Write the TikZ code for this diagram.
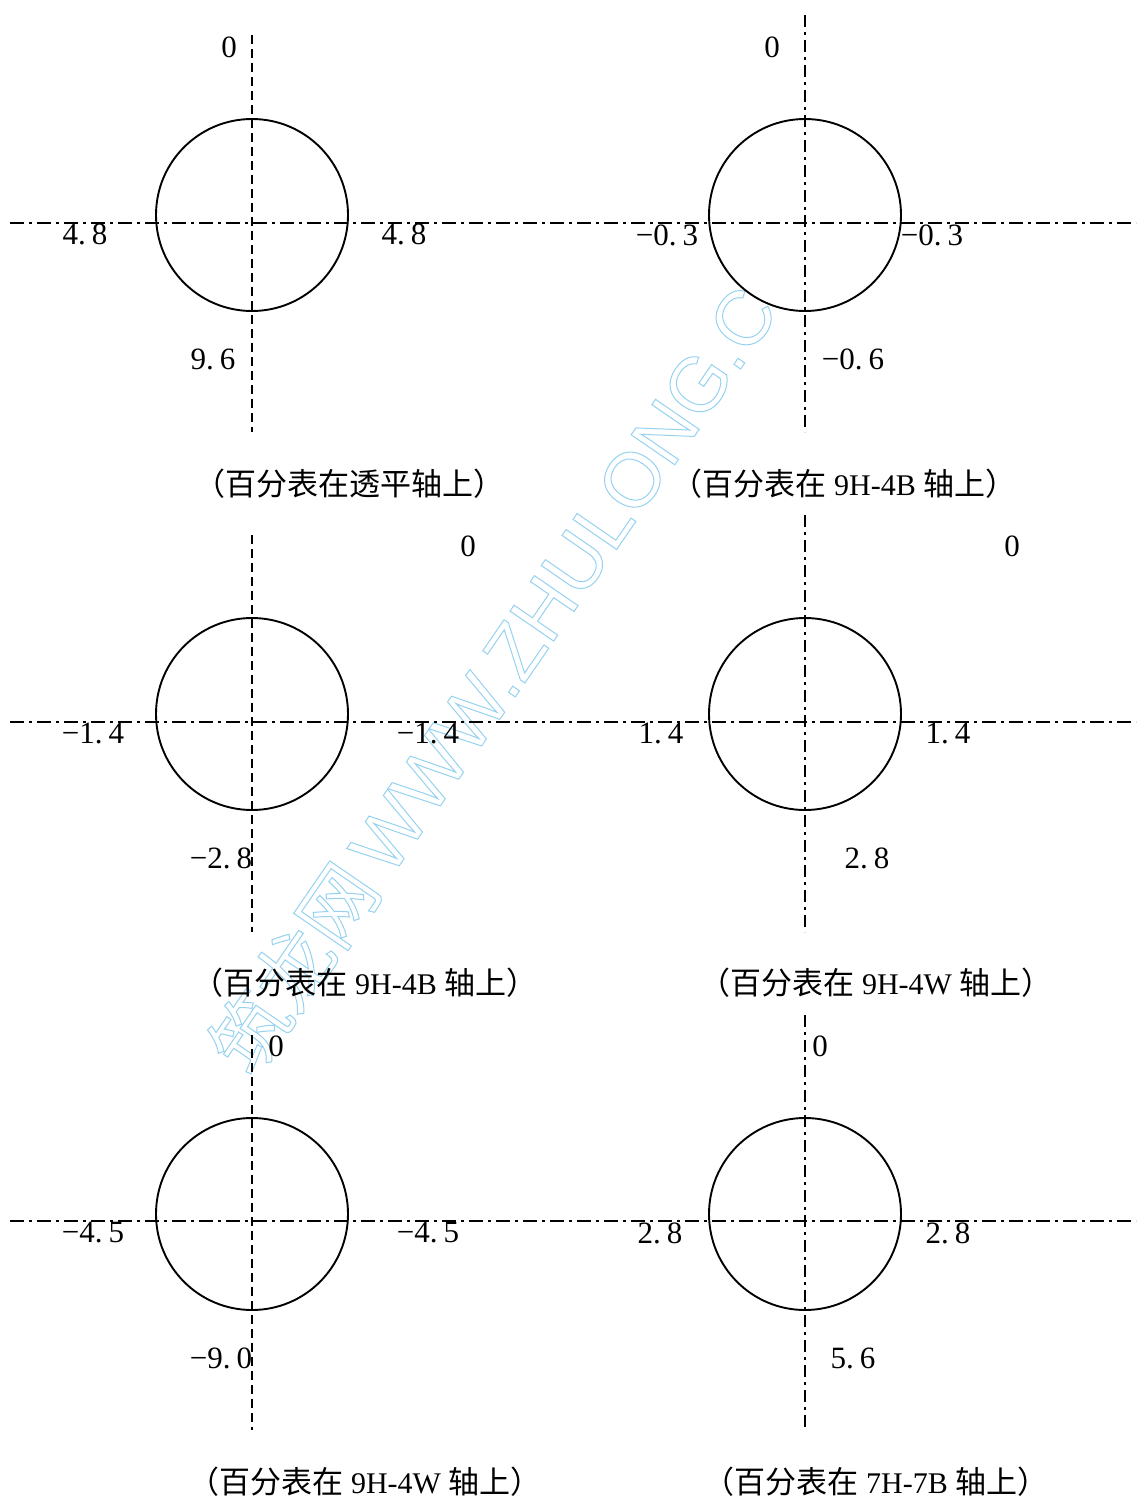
\documentclass[tikz,border=0pt]{standalone}
\usepackage{fontspec}
\setmainfont{Liberation Serif}
\newfontfamily\cjk{Noto Sans CJK SC}
\newfontfamily\wmsans{Liberation Sans}
\definecolor{wmblue}{RGB}{150,210,240}
\newcommand\numfont{\fontsize{31}{34}\selectfont}
\newcommand\capfont{\fontsize{30}{34}\selectfont}
\newcommand\pd{.\kern6pt}
\newcommand\cjkt[1]{{\cjk\fontsize{31}{34}\selectfont #1}}
\tikzset{
  ring/.style={draw=black, line width=1.9pt, fill=white},
  dashaxis/.style={draw=black, line width=1.7pt, dash pattern=on 9pt off 5pt},
  dotaxis/.style={draw=black, line width=1.7pt, dash pattern=on 14pt off 5pt on 3pt off 5pt},
  vdotaxis/.style={draw=black, line width=1.7pt, dash pattern=on 12pt off 5pt on 3pt off 5pt},
  num/.style={font=\numfont, inner sep=0pt, anchor=center},
  capt/.style={font=\capfont, inner sep=0pt, anchor=center},
}
\begin{document}
\begin{tikzpicture}[x=1pt,y=-1pt]
\useasboundingbox (0,0) rectangle (1136,1499);
\fill[white] (0,0) rectangle (1136,1499);

% watermark
\node[rotate=55.5, anchor=base west, inner sep=0pt, text=wmblue,
      font=\fontsize{77}{84}\selectfont] (wm) at (252,1080)
  {\special{pdf:literal direct 1 Tr 1 w}{\cjk 筑龙网}\,{\wmsans WWW.ZHULONG.COM}\special{pdf:literal direct 0 Tr}};

% circles
\foreach \cx/\cy in {252/215, 805/215, 252/714, 805/714, 252/1214, 805/1214}
  \draw[ring] (\cx,\cy) circle[radius=96];

% horizontal axes
\foreach \hy [count=\i] in {223, 722, 1221} {
  \coordinate (hl\i) at (10,\hy);
  \coordinate (hr\i) at (1136,\hy);
  \draw[dotaxis] (hl\i) -- (hr\i);
}
% vertical axes, left column (dashed)
\coordinate (lt1) at (252,35);   \coordinate (lb1) at (252,432);
\coordinate (lt2) at (252,535);  \coordinate (lb2) at (252,932);
\coordinate (lt3) at (252,1035); \coordinate (lb3) at (252,1430);
\draw[dashaxis] (lt1) -- (lb1);
\draw[dashaxis] (lt2) -- (lb2);
\draw[dashaxis] (lt3) -- (lb3);
% vertical axes, right column (dash-dot)
\coordinate (rt1) at (805,15);   \coordinate (rb1) at (805,432);
\coordinate (rt2) at (805,515);  \coordinate (rb2) at (805,932);
\coordinate (rt3) at (805,1015); \coordinate (rb3) at (805,1430);
\draw[vdotaxis] (rt1) -- (rb1);
\draw[vdotaxis] (rt2) -- (rb2);
\draw[vdotaxis] (rt3) -- (rb3);

% row 1 labels
\node[num] (a1t) at (229,47.5) {0};
\node[num] (a1l) at (85,234.5) {4\pd 8};
\node[num] (a1r) at (404,234.5) {4\pd 8};
\node[num] (a1b) at (213,359) {9\pd 6};
\node[num] (b1t) at (772,47.5) {0};
\node[num] (b1l) at (667,235) {−0\pd 3};
\node[num] (b1r) at (932,235) {−0\pd 3};
\node[num] (b1b) at (853,359) {−0\pd 6};
\node[capt] (c1l) at (349,484) {\cjkt{（百分表在透平轴上）}};
\node[capt] (c1r) at (844,484) {\cjkt{（百分表在}~9H-4B~\cjkt{轴上）}};

% row 2 labels
\node[num] (a2t) at (468,546) {0};
\node[num] (a2l) at (93,733) {−1\pd 4};
\node[num] (a2r) at (428,733) {−1\pd 4};
\node[num] (a2b) at (221,858) {−2\pd 8};
\node[num] (b2t) at (1012,546) {0};
\node[num] (b2l) at (661,733) {1\pd 4};
\node[num] (b2r) at (948,733) {1\pd 4};
\node[num] (b2b) at (867,858) {2\pd 8};
\node[capt] (c2l) at (365,983) {\cjkt{（百分表在}~9H-4B~\cjkt{轴上）}};
\node[capt] (c2r) at (876,983) {\cjkt{（百分表在}~9H-4W~\cjkt{轴上）}};

% row 3 labels
\node[num] (a3t) at (276,1046) {0};
\node[num] (a3l) at (93,1233) {−4\pd 5};
\node[num] (a3r) at (428,1233) {−4\pd 5};
\node[num] (a3b) at (221,1358) {−9\pd 0};
\node[num] (b3t) at (820,1046) {0};
\node[num] (b3l) at (660,1233) {2\pd 8};
\node[num] (b3r) at (948,1233) {2\pd 8};
\node[num] (b3b) at (853,1358) {5\pd 6};
\node[capt] (c3l) at (365,1482) {\cjkt{（百分表在}~9H-4W~\cjkt{轴上）}};
\node[capt] (c3r) at (876,1482) {\cjkt{（百分表在}~7H-7B~\cjkt{轴上）}};
\end{tikzpicture}
\end{document}
